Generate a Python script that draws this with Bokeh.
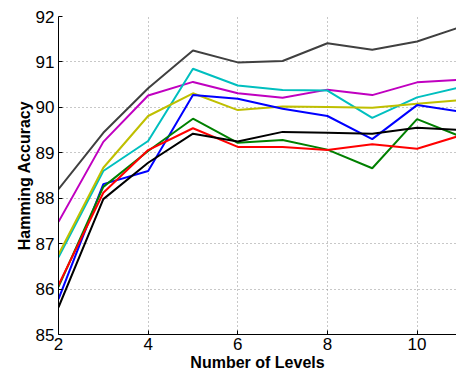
from bokeh.plotting import figure
from bokeh.models import Range1d, FixedTicker
from bokeh.embed import file_html
from bokeh.resources import INLINE

levels = [2, 3, 4, 5, 6, 7, 8, 9, 10, 11]
gray_vals = [88.20, 89.44, 90.42, 91.25, 90.99, 91.02, 91.41, 91.27, 91.45, 91.78]
magenta_vals = [87.48, 89.24, 90.26, 90.56, 90.31, 90.21, 90.39, 90.27, 90.55, 90.61]
cyan_vals = [86.70, 88.60, 89.26, 90.85, 90.48, 90.38, 90.37, 89.77, 90.22, 90.45]
yellow_vals = [86.76, 88.67, 89.81, 90.31, 89.94, 90.02, 90.01, 89.99, 90.08, 90.16]
blue_vals = [85.78, 88.31, 88.60, 90.27, 90.19, 89.97, 89.81, 89.30, 90.05, 89.90]
green_vals = [86.05, 88.25, 89.04, 89.75, 89.22, 89.28, 89.07, 88.66, 89.74, 89.35]
red_vals = [86.09, 88.12, 89.06, 89.54, 89.13, 89.13, 89.06, 89.19, 89.09, 89.39]
black_vals = [85.60, 87.98, 88.78, 89.42, 89.25, 89.46, 89.44, 89.42, 89.55, 89.50]

series = [
    (gray_vals, "#404040"),
    (magenta_vals, "#c000c0"),
    (cyan_vals, "#00bfbf"),
    (yellow_vals, "#bfbf00"),
    (blue_vals, "#0000ff"),
    (green_vals, "#008000"),
    (red_vals, "#ff0000"),
    (black_vals, "#000000"),
]

x_ticks = [2, 4, 6, 8, 10]
y_ticks = [85, 86, 87, 88, 89, 90, 91, 92]

p = figure(width=456, height=375, output_backend="svg", toolbar_location=None,
           x_range=Range1d(2, 10.88), y_range=Range1d(85, 92),
           min_border_left=58, min_border_right=0, min_border_top=16, min_border_bottom=41)
p.outline_line_color = None

for vals, col in series:
    p.line(levels, vals, line_color=col, line_width=2)

for ax in (p.xaxis[0], p.yaxis[0]):
    ax.axis_line_color = "black"
    ax.axis_line_width = 1
    ax.major_tick_in = 4
    ax.major_tick_out = 0
    ax.minor_tick_in = 0
    ax.minor_tick_out = 0
    ax.major_label_text_font = "Liberation Sans"
    ax.major_label_text_font_size = "17px"
    ax.major_label_text_color = "black"
    ax.axis_label_text_font = "Liberation Sans"
    ax.axis_label_text_font_style = "bold"
    ax.axis_label_text_font_size = "16px"
    ax.axis_label_text_color = "black"

p.xaxis.ticker = FixedTicker(ticks=x_ticks)
p.yaxis.ticker = FixedTicker(ticks=y_ticks)
p.xaxis.axis_label = "Number of Levels"
p.yaxis.axis_label = "Hamming Accuracy"
p.xaxis.major_label_standoff = 3
p.yaxis.major_label_standoff = 4
p.xaxis.axis_label_standoff = 1
p.yaxis.axis_label_standoff = 0

for g in (p.xgrid[0], p.ygrid[0]):
    g.grid_line_color = "#909090"
    g.grid_line_dash = "1 3"
    g.grid_line_width = 1

open("out.html", "w").write(file_html(p, INLINE))
